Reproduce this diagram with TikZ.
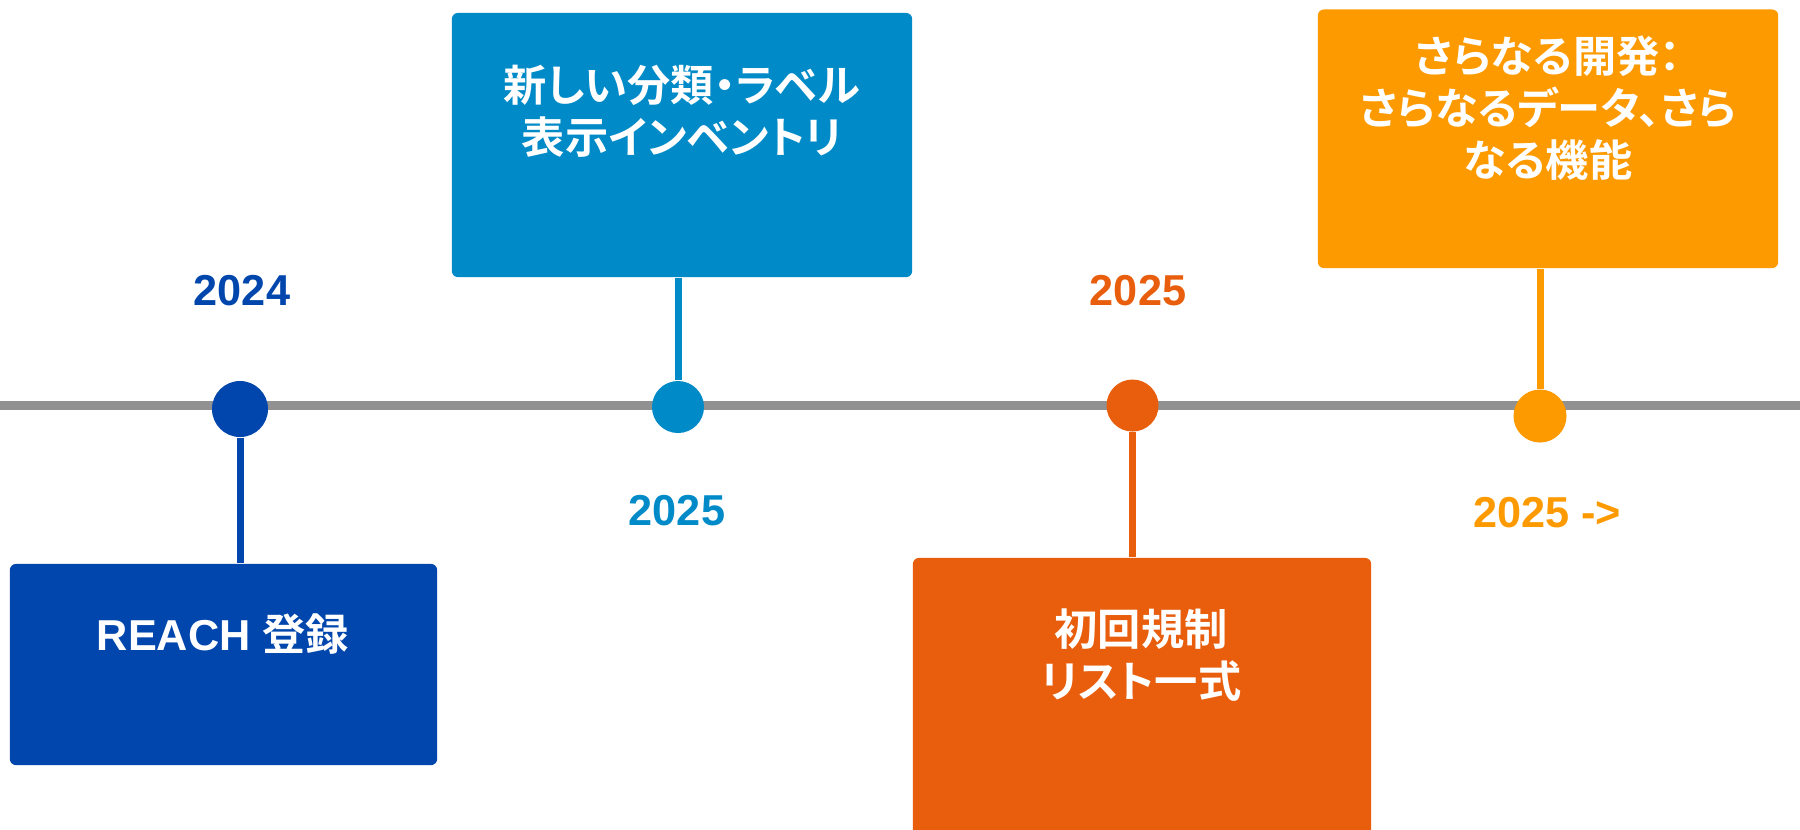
\documentclass[tikz,border=0pt]{standalone}
\usepackage{fontspec}
\setmainfont{Liberation Sans}
\newfontfamily\jp{Noto Sans CJK JP}[BoldFont={Noto Sans CJK JP Bold}, RawFeature=+palt]
\definecolor{reachblue}{RGB}{0,70,173}
\definecolor{clsblue}{RGB}{0,139,200}
\definecolor{initorange}{RGB}{232,94,12}
\definecolor{devorange}{RGB}{252,154,0}
\definecolor{linegray}{RGB}{145,145,145}

\begin{document}
\begin{tikzpicture}[x=0.01cm, y=-0.01cm,
        box/.style={rectangle, rounded corners=0.6mm, inner sep=0pt},
        boxtext/.style={text=white, align=center, font=\bfseries\fontsize{12.3}{14.8}\selectfont},
        jptext/.style={boxtext, font=\jp\bfseries\fontsize{12.3}{14.8}\selectfont},
        year/.style={font=\bfseries\fontsize{12.3}{14.8}\selectfont},
        dot/.style={circle, inner sep=0pt, minimum size=0.52cm},
        stem/.style={line width=0.07cm}]
            \clip (0,0) rectangle (1800,829);
            \fill[white] (0,0) rectangle (1800,829);
            \draw[linegray, line width=0.09cm] (0,405) -- (1800,405);
            \node[box, fill=reachblue, minimum width=4.27cm, minimum height=2.01cm] (reach) at (223.5,664.5) {};
            \node[box, fill=clsblue, minimum width=4.6cm, minimum height=2.64cm] (cls) at (682,145) {};
            \node[box, fill=initorange, minimum width=4.58cm, minimum height=2.87cm] (init) at (1142,701.5) {};
            \node[box, fill=devorange, minimum width=4.6cm, minimum height=2.585cm] (dev) at (1548,138.75) {};
            \node[dot, fill=reachblue, minimum size=0.56cm] (reachdot) at (240,409) {};
            \node[dot, fill=clsblue] (clsdot) at (678,407) {};
            \node[dot, fill=initorange] (initdot) at (1132.5,405.5) {};
            \node[dot, fill=devorange, minimum size=0.53cm] (devdot) at (1540,416) {};
            \draw[stem, reachblue] (reachdot) -- (reachdot |- reach.north);
            \draw[stem, clsblue] (clsdot) -- (clsdot |- cls.south);
            \draw[stem, initorange] (initdot) -- (initdot |- init.north);
            \draw[stem, devorange] (devdot) -- (devdot |- dev.south);
            \node[year, text=reachblue] (y2024) at (242,291) {2024};
            \node[year, text=clsblue] (y2025cls) at (677,511) {2025};
            \node[year, text=initorange] (y2025init) at (1138,291) {2025};
            \node[year, text=devorange] (y2025dev) at (1547,513) {2025 ->};
            \node[boxtext] (reachtxt) at (223,634) {REACH {\jp 登録}};
            \node[jptext] (clstxt) at (682,111) {新しい分類・ラベル\\表示インベントリ};
            \node[jptext] (inittxt) at (1141,655.5) {初回規制\\リスト一式};
            \node[jptext] (devtxt) at (1548,108) {さらなる開発：\\さらなるデータ、さら\\なる機能};
        \end{tikzpicture}
\end{document}
